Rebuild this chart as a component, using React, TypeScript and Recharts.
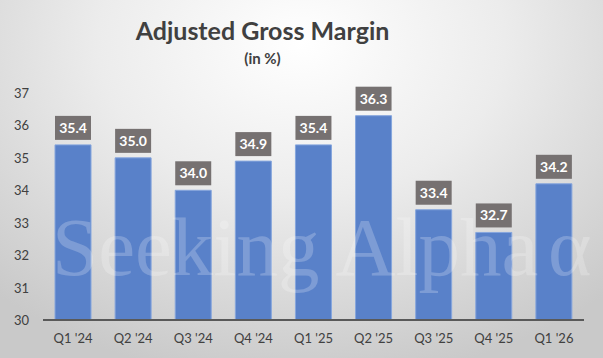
import { BarChart, Bar, XAxis, YAxis, LabelList } from "recharts";

const quarters = ["Q1 '24", "Q2 '24", "Q3 '24", "Q4 '24", "Q1 '25", "Q2 '25", "Q3 '25", "Q4 '25", "Q1 '26"];
const margins = [35.4, 35.0, 34.0, 34.9, 35.4, 36.3, 33.4, 32.7, 34.2];
const yTicks = [30, 31, 32, 33, 34, 35, 36, 37];

const data = quarters.map((q, i) => ({ q, v: margins[i] }));

const FONT = "Lato, 'Open Sans', sans-serif";

function ValueBox(props: any) {
  const { x, y, width, value } = props;
  const h = 24;
  const top = y - 5 - h;
  return (
    <g>
      <rect x={x} y={top} width={width} height={h} fill="#767171" />
      <text
        x={x + width / 2}
        y={top + h / 2 + 5}
        textAnchor="middle"
        fill="#ffffff"
        fontSize={14}
        fontWeight={700}
        fontFamily={FONT}
      >
        {Number(value).toFixed(1)}
      </text>
    </g>
  );
}

function YTick(props: any) {
  const { y, payload } = props;
  return (
    <text x={29} y={y + 5} textAnchor="end" fill="#404040" fontSize={13} fontFamily={FONT}>
      {payload.value}
    </text>
  );
}

export default function App() {
  return (
    <div
      style={{
        position: "relative",
        width: 603,
        height: 358,
        overflow: "hidden",
        background: "radial-gradient(ellipse 75% 95% at 50% 12%, #ffffff 0%, #ececec 45%, #c9c9c9 100%)",
      }}
    >
      <style>{`body { margin: 0; }`}</style>
      <div
        style={{
          position: "absolute",
          left: 0,
          width: 525,
          top: 14,
          textAlign: "center",
          fontFamily: FONT,
          color: "#404040",
          fontWeight: 700,
        }}
      >
        <div style={{ fontSize: 25, lineHeight: "32px" }}>Adjusted Gross Margin</div>
        <div style={{ fontSize: 15, lineHeight: "20px", marginTop: 2 }}>(in %)</div>
      </div>
      <BarChart
        width={603}
        height={358}
        data={data}
        margin={{ top: 93, right: 19, bottom: 0, left: 0 }}
      >
        <XAxis
          dataKey="q"
          axisLine={{ stroke: "#595959", strokeWidth: 2 }}
          tickLine={false}
          tick={{ fill: "#404040", fontSize: 13, fontFamily: FONT }}
          tickMargin={8}
          height={38}
        />
        <YAxis
          domain={[30, 37]}
          ticks={yTicks}
          axisLine={false}
          tickLine={false}
          tick={<YTick />}
          width={43}
        />
        <Bar dataKey="v" fill="#5981C9" stroke="#86A6DD" strokeWidth={1} barSize={36} isAnimationActive={false}>
          <LabelList dataKey="v" content={<ValueBox />} />
        </Bar>
      </BarChart>
      <svg
        width={603}
        height={358}
        style={{ position: "absolute", left: 0, top: 0, pointerEvents: "none" }}
      >
        <text
          x={52}
          y={275}
          fontSize={83}
          fontFamily="'Liberation Serif', 'DejaVu Serif', serif"
          fill="#ffffff"
          fillOpacity={0.22}
        >
          Seeking Alpha
        </text>
        <text
          x={548}
          y={275}
          fontSize={83}
          fontFamily="'Liberation Serif', 'DejaVu Serif', serif"
          fill="#ffffff"
          fillOpacity={0.22}
        >
          α
        </text>
      </svg>
    </div>
  );
}
